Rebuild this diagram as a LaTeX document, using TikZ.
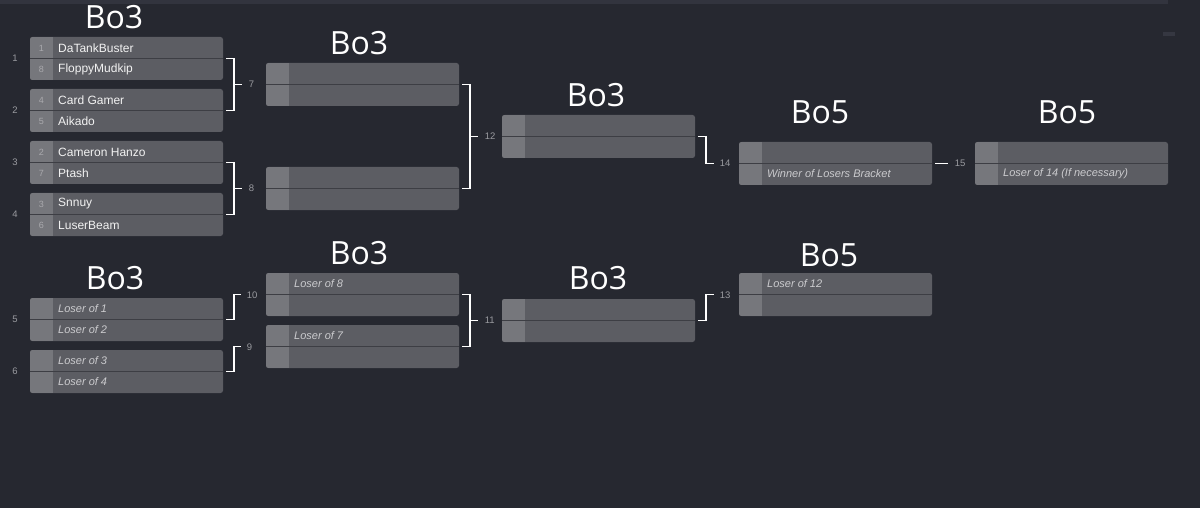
\documentclass[tikz,border=0pt]{standalone}
\usepackage{fontspec}
\setmainfont{Liberation Sans}
\newfontfamily\bofont{Open Sans}
\usetikzlibrary{calc}
\definecolor{bg}{HTML}{262830}
\definecolor{strip}{HTML}{32343E}
\definecolor{faint}{HTML}{353741}
\definecolor{boxgray}{HTML}{5C5D63}
\definecolor{seedgray}{HTML}{76777C}
\definecolor{divgray}{HTML}{3D3E44}
\definecolor{namewhite}{HTML}{F2F2F2}
\definecolor{italgray}{HTML}{CBCBCE}
\definecolor{seedtxt}{HTML}{A9A9AD}
\definecolor{numtxt}{HTML}{9A9BA0}
\tikzset{
  matchnode/.style={fill=boxgray, rounded corners=2.5pt, minimum width=193pt, minimum height=43pt, inner sep=0pt, outer sep=0pt, anchor=north west},
  seedcol/.style={fill=seedgray},
  divider/.style={draw=divgray, line width=1pt},
  pname/.style={text=namewhite, font=\fontsize{12}{14}\selectfont, anchor=west, inner sep=0pt},
  ital/.style={text=italgray, font=\fontsize{11}{13}\selectfont\itshape, anchor=west, inner sep=0pt},
  seednum/.style={text=seedtxt, font=\fontsize{9}{11}\selectfont, inner sep=0pt},
  mnum/.style={text=numtxt, font=\fontsize{9.5}{11}\selectfont, inner sep=0pt},
  blabel/.style={text=numtxt, font=\fontsize{9.5}{11}\selectfont, anchor=west, inner sep=0pt},
  bracket/.style={draw=white, line width=1.8pt},
  bolabel/.style={text=white, font=\bofont\fontsize{32}{36}\selectfont, inner sep=0pt},
}
\newcommand\matchbox[3]{%
  \node[matchnode] (#1) at (#2,#3) {};
  \begin{scope}
    \clip[rounded corners=2.5pt] (#1.north west) rectangle (#1.south east);
    \fill[seedcol] (#1.north west) rectangle ($(#1.south west)+(23,0)$);
  \end{scope}
  \draw[divider] (#1.west) -- (#1.east);
}
\begin{document}
\begin{tikzpicture}[x=1pt,y=-1pt]
\useasboundingbox (0,0) rectangle (1200,508);
\fill[bg] (0,0) rectangle (1200,508);
\fill[strip] (0,0) rectangle (1168,4);
\fill[faint] (1163,32) rectangle (1175,36);

% Winners bracket
\matchbox{m1}{30}{37}
\matchbox{m2}{30}{89}
\matchbox{m3}{30}{141}
\matchbox{m4}{30}{193}
\matchbox{m7}{266}{63}
\matchbox{m8}{266}{167}
\matchbox{m12}{502}{115}
\matchbox{m14}{739}{142}
\matchbox{m15}{975}{142}
% Losers bracket
\matchbox{m5}{30}{298}
\matchbox{m6}{30}{350}
\matchbox{m10}{266}{273}
\matchbox{m9}{266}{325}
\matchbox{m11}{502}{299}
\matchbox{m13}{739}{273}

% Round 1 names
\node[seednum] (s1a) at ($(m1.north west)+(11.5,11)$) {1};
\node[pname] (p1a) at ($(m1.north west)+(28,11)$) {DaTankBuster};
\node[seednum] (s1b) at ($(m1.north west)+(11.5,32)$) {8};
\node[pname] (p1b) at ($(m1.north west)+(28,32)$) {FloppyMudkip};
\node[seednum] (s2a) at ($(m2.north west)+(11.5,11)$) {4};
\node[pname] (p2a) at ($(m2.north west)+(28,11)$) {Card Gamer};
\node[seednum] (s2b) at ($(m2.north west)+(11.5,32)$) {5};
\node[pname] (p2b) at ($(m2.north west)+(28,32)$) {Aikado};
\node[seednum] (s3a) at ($(m3.north west)+(11.5,11)$) {2};
\node[pname] (p3a) at ($(m3.north west)+(28,11)$) {Cameron Hanzo};
\node[seednum] (s3b) at ($(m3.north west)+(11.5,32)$) {7};
\node[pname] (p3b) at ($(m3.north west)+(28,32)$) {Ptash};
\node[seednum] (s4a) at ($(m4.north west)+(11.5,11)$) {3};
\node[pname] (p4a) at ($(m4.north west)+(28,11)$) {Snnuy};
\node[seednum] (s4b) at ($(m4.north west)+(11.5,32)$) {6};
\node[pname] (p4b) at ($(m4.north west)+(28,32)$) {LuserBeam};

% italic labels
\node[ital] (l5a) at ($(m5.north west)+(28,11)$) {Loser of 1};
\node[ital] (l5b) at ($(m5.north west)+(28,32)$) {Loser of 2};
\node[ital] (l6a) at ($(m6.north west)+(28,11)$) {Loser of 3};
\node[ital] (l6b) at ($(m6.north west)+(28,32)$) {Loser of 4};
\node[ital] (l10a) at ($(m10.north west)+(28,11)$) {Loser of 8};
\node[ital] (l9a) at ($(m9.north west)+(28,11)$) {Loser of 7};
\node[ital] (l13a) at ($(m13.north west)+(28,11)$) {Loser of 12};
\node[ital] (l14b) at ($(m14.north west)+(28,32)$) {Winner of Losers Bracket};
\node[ital] (l15b) at ($(m15.north west)+(28,32)$) {Loser of 14 (If necessary)};

% match numbers on the left
\node[mnum] (n1) at ($(m1.west)+(-15,0)$) {1};
\node[mnum] (n2) at ($(m2.west)+(-15,0)$) {2};
\node[mnum] (n3) at ($(m3.west)+(-15,0)$) {3};
\node[mnum] (n4) at ($(m4.west)+(-15,0)$) {4};
\node[mnum] (n5) at ($(m5.west)+(-15,0)$) {5};
\node[mnum] (n6) at ($(m6.west)+(-15,0)$) {6};

% brackets (winners)
\draw[bracket] ($(m1.east)+(3,0)$) -- ++(8,0) |- ($(m2.east)+(3,0)$);
\draw[bracket] ($(m1.east)!0.5!(m2.east)+(11,0)$) -- ++(8,0) node[blabel, xshift=6pt] (b7) {7};
\draw[bracket] ($(m3.east)+(3,0)$) -- ++(8,0) |- ($(m4.east)+(3,0)$);
\draw[bracket] ($(m3.east)!0.5!(m4.east)+(11,0)$) -- ++(8,0) node[blabel, xshift=6pt] (b8) {8};
\draw[bracket] ($(m7.east)+(3,0)$) -- ++(8,0) |- ($(m8.east)+(3,0)$);
\draw[bracket] ($(m7.east)!0.5!(m8.east)+(11,0)$) -- ++(8,0) node[blabel, xshift=6pt] (b12) {12};
\draw[bracket] ($(m12.east)+(3,0)$) -- ++(8,0) |- ($(m14.west)+(-25,0)$) node[blabel, xshift=5pt] (b14) {14};
\draw[bracket] ($(m14.east)+(3,0)$) -- ($(m15.west)+(-27,0)$) node[blabel, xshift=6pt] (b15) {15};

% brackets (losers)
\draw[bracket] ($(m5.east)+(3,0)$) -- ++(8,0) |- ($(m10.west)+(-25,0)$) node[blabel, xshift=5pt, yshift=-1pt] (b10) {10};
\draw[bracket] ($(m6.east)+(3,0)$) -- ++(8,0) |- ($(m9.west)+(-25,0)$) node[blabel, xshift=5pt, yshift=-1pt] (b9) {9};
\draw[bracket] ($(m10.east)+(3,0)$) -- ++(8,0) |- ($(m9.east)+(3,0)$);
\draw[bracket] ($(m10.east)!0.5!(m9.east)+(11,0)$) -- ++(8,0) node[blabel, xshift=6pt] (b11) {11};
\draw[bracket] ($(m11.east)+(3,0)$) -- ++(8,0) |- ($(m13.west)+(-25,0)$) node[blabel, xshift=5pt, yshift=-1pt] (b13) {13};

% Bo labels
\node[bolabel] (bo1) at (114,17) {Bo3};
\node[bolabel] (bo2) at (359,43) {Bo3};
\node[bolabel] (bo3) at (596,95) {Bo3};
\node[bolabel] (bo4) at (820,112) {Bo5};
\node[bolabel] (bo5) at (1067,112) {Bo5};
\node[bolabel] (bo6) at (115,278) {Bo3};
\node[bolabel] (bo7) at (359,253) {Bo3};
\node[bolabel] (bo8) at (598,278) {Bo3};
\node[bolabel] (bo9) at (829,255) {Bo5};
\end{tikzpicture}
\end{document}
